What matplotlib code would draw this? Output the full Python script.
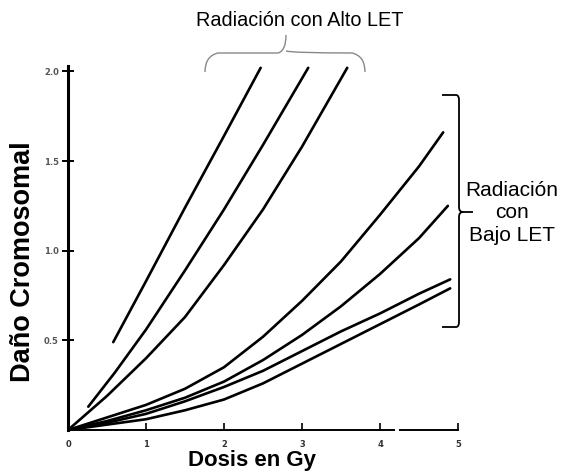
import matplotlib
matplotlib.use("Agg")
import matplotlib.pyplot as plt
from matplotlib.path import Path
from matplotlib.patches import PathPatch

# curvas (dosis en Gy, dano cromosomal)
# radiacion con alto LET
alto1_x = [0.58, 1.00, 1.50, 2.00, 2.47]
alto1_y = [0.49, 0.83, 1.24, 1.64, 2.02]
alto2_x = [0.26, 0.60, 1.00, 1.50, 2.00, 2.50, 3.08]
alto2_y = [0.13, 0.32, 0.56, 0.89, 1.23, 1.59, 2.02]
alto3_x = [0.00, 0.50, 1.00, 1.50, 2.00, 2.50, 3.00, 3.58]
alto3_y = [0.00, 0.19, 0.40, 0.63, 0.92, 1.23, 1.58, 2.02]

# radiacion con bajo LET
bajo1_x = [0.00, 0.50, 1.00, 1.50, 2.00, 2.50, 3.00, 3.50, 4.00, 4.50, 4.81]
bajo1_y = [0.00, 0.07, 0.14, 0.23, 0.35, 0.52, 0.72, 0.94, 1.20, 1.47, 1.66]
bajo2_x = [0.00, 0.50, 1.00, 1.50, 2.00, 2.50, 3.00, 3.50, 4.00, 4.50, 4.87]
bajo2_y = [0.00, 0.05, 0.11, 0.18, 0.27, 0.39, 0.53, 0.69, 0.87, 1.07, 1.25]
bajo3_x = [0.00, 0.50, 1.00, 1.50, 2.00, 2.50, 3.00, 3.50, 4.00, 4.50, 4.90]
bajo3_y = [0.00, 0.04, 0.09, 0.16, 0.24, 0.33, 0.44, 0.55, 0.65, 0.76, 0.84]
bajo4_x = [0.00, 0.50, 1.00, 1.50, 2.00, 2.50, 3.00, 3.50, 4.00, 4.50, 4.90]
bajo4_y = [0.00, 0.03, 0.06, 0.11, 0.17, 0.26, 0.37, 0.48, 0.59, 0.70, 0.79]

xticks = [0, 1, 2, 3, 4, 5]
yticks = [0.5, 1.0, 1.5, 2.0]
ytick_labels = ["0.5", "1.0", "1.5", "2.0"]

fig = plt.figure(figsize=(5.62, 4.71), dpi=100)
ax = fig.add_axes([68 / 562, 41 / 471, 390 / 562, 364 / 471])

curvas = [(alto1_x, alto1_y), (alto2_x, alto2_y), (alto3_x, alto3_y),
          (bajo1_x, bajo1_y), (bajo2_x, bajo2_y), (bajo3_x, bajo3_y), (bajo4_x, bajo4_y)]
for cx, cy in curvas:
    ax.plot(cx, cy, color="black", lw=1.9, solid_capstyle="round", solid_joinstyle="round")

ax.set_xlim(0, 5)
ax.set_ylim(0, 2.03)
ax.spines["top"].set_visible(False)
ax.spines["right"].set_visible(False)
ax.spines["left"].set_linewidth(2.2)
ax.spines["bottom"].set_linewidth(1.4)
ax.set_xticks(xticks)
ax.set_xticklabels([str(t) for t in xticks], fontsize=6, fontweight="bold", color="#333333")
ax.set_yticks(yticks)
ax.set_yticklabels(ytick_labels, fontsize=6, fontweight="bold", color="#555555")
ax.tick_params(axis="y", direction="inout", length=9, width=1.4, pad=2)
ax.tick_params(axis="x", direction="in", length=5, width=1.2, pad=7)
# hueco en el eje x cerca de 4.2
ax.plot([4.19, 4.24], [0, 0], color="white", lw=3, solid_capstyle="butt", clip_on=False, zorder=5)

fig.text(252 / 562, 1 - 466 / 471, "Dosis en Gy", fontsize=16, fontweight="bold",
         family="Liberation Sans", ha="center", va="baseline")
fig.text(23 / 562, 1 - 262 / 471, "Daño Cromosomal", rotation=90, fontsize=19.5,
         fontweight="bold", family="Liberation Sans", ha="center", va="center")

fig.text(300 / 562, 1 - 20 / 471, "Radiación con Alto LET", fontsize=14.3,
         family="Liberation Sans", ha="center", va="center")
fig.text(512 / 562, 1 - 213 / 471, "Radiación\ncon\nBajo LET", fontsize=15,
         family="Liberation Sans", ha="center", va="center", linespacing=1.25)


def px(x, y):
    return (x / 562, 1 - y / 471)


# llave superior (gris)
verts = [px(205, 72), px(205, 56), px(218, 53), px(278, 53), px(286, 51), px(286, 35),
         px(286, 51), px(294, 53), px(352, 53), px(365, 56), px(365, 72)]
codes = [Path.MOVETO, Path.CURVE3, Path.CURVE3, Path.LINETO, Path.CURVE3, Path.CURVE3,
         Path.MOVETO, Path.CURVE3, Path.LINETO, Path.CURVE3, Path.CURVE3]
fig.add_artist(PathPatch(Path(verts, codes), transform=fig.transFigure, fill=False,
                         edgecolor="#888888", lw=1.0))

# llave derecha (negra)
verts2 = [px(442, 95), px(456, 95), px(459, 95), px(459, 100), px(459, 207), px(459, 212),
          px(463, 212), px(473, 212), px(463, 212), px(459, 212), px(459, 217), px(459, 322),
          px(459, 327), px(456, 327), px(442, 327)]
codes2 = [Path.MOVETO, Path.LINETO, Path.CURVE3, Path.CURVE3, Path.LINETO, Path.CURVE3,
          Path.CURVE3, Path.LINETO, Path.MOVETO, Path.CURVE3, Path.CURVE3, Path.LINETO,
          Path.CURVE3, Path.CURVE3, Path.LINETO]
fig.add_artist(PathPatch(Path(verts2, codes2), transform=fig.transFigure, fill=False,
                         edgecolor="black", lw=1.3))

fig.savefig("out.png", dpi=100)
